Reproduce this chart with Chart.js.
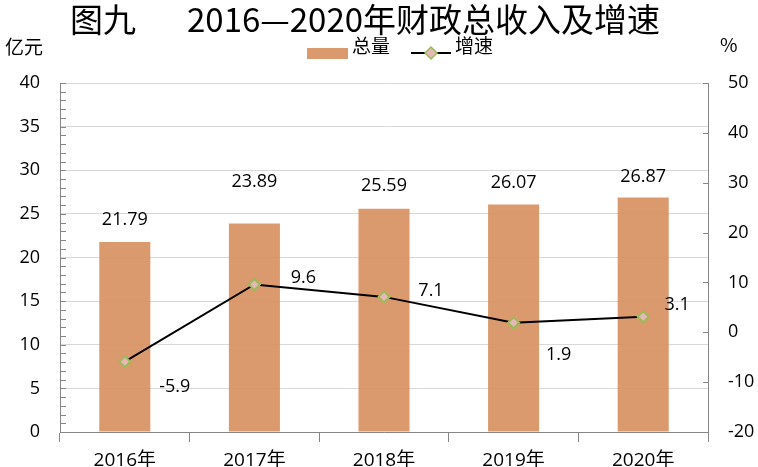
<!DOCTYPE html>
<html>
<head>
<meta charset="utf-8">
<script src="https://cdn.jsdelivr.net/npm/chart.js@4.4.0/dist/chart.umd.min.js"></script>
<style>
  body { margin: 0; background: #fff; }
  #wrap { width: 758px; height: 467px; }
</style>
</head>
<body>
<div id="wrap"><canvas id="myChart" width="758" height="467"></canvas></div>
<script>
var years = ['2016年', '2017年', '2018年', '2019年', '2020年'];
var totals = [21.79, 23.89, 25.59, 26.07, 26.87];   // 亿元
var growth = [-5.9, 9.6, 7.1, 1.9, 3.1];            // %
var leftTicks = [0, 5, 10, 15, 20, 25, 30, 35, 40];
var rightTicks = [-20, -10, 0, 10, 20, 30, 40, 50];

// label nudges (px), hand placed like the original
var barLabelShift = [-22, -42, -23, -22, -21];
var lineLabelShift = [[50, 25], [49, -7], [47, -6], [45, 32], [34, -12]];

var FONT = '"Open Sans", "Noto Sans CJK SC", sans-serif';
var CJK = '"Noto Sans CJK SC", sans-serif';
var BAR_COLOR = 'rgba(214, 143, 94, 0.9)';
var AXIS_COLOR = '#868686';

Chart.defaults.font.family = FONT;
Chart.defaults.color = '#000000';

function useTicks(list) {
  return function(scale) {
    scale.ticks = list.map(v => ({ value: v }));
  };
}

var decor = {
  id: 'decor',
  afterDatasetsDraw: function(chart) {
    var ctx = chart.ctx;
    ctx.save();
    ctx.fillStyle = '#000';
    ctx.font = '18px ' + FONT;
    ctx.textAlign = 'center';
    ctx.textBaseline = 'middle';

    var bars = chart.getDatasetMeta(1).data;
    for (var i = 0; i < bars.length; i++) {
      ctx.fillText(totals[i].toFixed(2), bars[i].x, bars[i].y + barLabelShift[i]);
    }
    var pts = chart.getDatasetMeta(0).data;
    for (var j = 0; j < pts.length; j++) {
      ctx.fillText(String(growth[j]), pts[j].x + lineLabelShift[j][0], pts[j].y + lineLabelShift[j][1]);
    }
    ctx.restore();
  },
  afterDraw: function(chart) {
    var ctx = chart.ctx;
    var y = chart.scales.y, y1 = chart.scales.y1;
    ctx.save();

    // minor ticks on the left axis, inside
    ctx.strokeStyle = AXIS_COLOR;
    ctx.lineWidth = 1;
    ctx.beginPath();
    for (var v = 0; v <= 40; v++) {
      var py = Math.round(y.getPixelForValue(v)) + 0.5;
      ctx.moveTo(y.right, py);
      ctx.lineTo(y.right + 6, py);
    }
    // major ticks on the right axis, inside
    rightTicks.forEach(function(t) {
      var py = Math.round(y1.getPixelForValue(t)) + 0.5;
      ctx.moveTo(y1.left, py);
      ctx.lineTo(y1.left - 5, py);
    });
    ctx.stroke();

    // title
    ctx.fillStyle = '#000';
    ctx.textBaseline = 'middle';
    ctx.textAlign = 'left';
    ctx.font = '33px ' + CJK;
    ctx.fillText('图九', 70, 19);
    ctx.fillText('2016—2020年财政总收入及增速', 187, 19);

    // units
    ctx.font = '19px ' + CJK;
    ctx.fillText('亿元', 5, 47);
    ctx.fillText('%', 720, 45);

    // legend
    ctx.fillStyle = BAR_COLOR;
    ctx.fillRect(307, 48, 41, 11);
    ctx.fillStyle = '#000';
    ctx.fillText('总量', 352, 46);
    ctx.strokeStyle = '#000';
    ctx.lineWidth = 2;
    ctx.beginPath();
    ctx.moveTo(411, 53);
    ctx.lineTo(451, 53);
    ctx.stroke();
    ctx.beginPath();
    ctx.moveTo(431, 47); ctx.lineTo(437, 53); ctx.lineTo(431, 59); ctx.lineTo(425, 53); ctx.closePath();
    ctx.fillStyle = '#e6b9b8';
    ctx.fill();
    ctx.strokeStyle = '#9bbb59';
    ctx.lineWidth = 1.5;
    ctx.stroke();
    ctx.fillStyle = '#000';
    ctx.fillText('增速', 455, 46);

    ctx.restore();
  }
};

var chart = new Chart(document.getElementById('myChart'), {
  type: 'bar',
  data: {
    labels: years,
    datasets: [
      {
        type: 'line',
        label: '增速',
        data: growth,
        yAxisID: 'y1',
        order: 0,
        borderColor: '#000000',
        borderWidth: 2,
        tension: 0,
        pointStyle: 'rectRot',
        pointRadius: 5.5,
        pointBorderWidth: 2,
        pointBackgroundColor: '#e6b9b8',
        pointBorderColor: '#9bbb59'
      },
      {
        type: 'bar',
        label: '总量',
        data: totals,
        yAxisID: 'y',
        order: 1,
        backgroundColor: BAR_COLOR,
        categoryPercentage: 1,
        barPercentage: 0.394
      }
    ]
  },
  plugins: [decor],
  options: {
    responsive: false,
    animation: false,
    events: [],
    layout: {
      padding: { top: 83, left: 0, right: 0, bottom: 0 }
    },
    scales: {
      x: {
        offset: true,
        grid: {
          offset: true,
          drawOnChartArea: false,
          tickLength: 10,
          color: AXIS_COLOR
        },
        border: { color: AXIS_COLOR },
        ticks: { padding: 7, font: { size: 19 } },
        afterFit: function(s) { s.height = 35; }
      },
      y: {
        position: 'left',
        min: 0,
        max: 40,
        grid: { color: '#d9d9d9', drawTicks: false },
        border: { color: AXIS_COLOR },
        ticks: { padding: 20, font: { size: 18 } },
        afterBuildTicks: useTicks(leftTicks),
        afterFit: function(s) { s.width = 60; }
      },
      y1: {
        position: 'right',
        min: -20,
        max: 50,
        grid: { drawOnChartArea: false, drawTicks: false },
        border: { color: AXIS_COLOR },
        ticks: { padding: 20, font: { size: 18 } },
        afterBuildTicks: useTicks(rightTicks),
        afterFit: function(s) { s.width = 50; }
      }
    },
    plugins: {
      legend: { display: false },
      title: { display: false },
      tooltip: { enabled: false }
    }
  }
});
</script>
</body>
</html>
